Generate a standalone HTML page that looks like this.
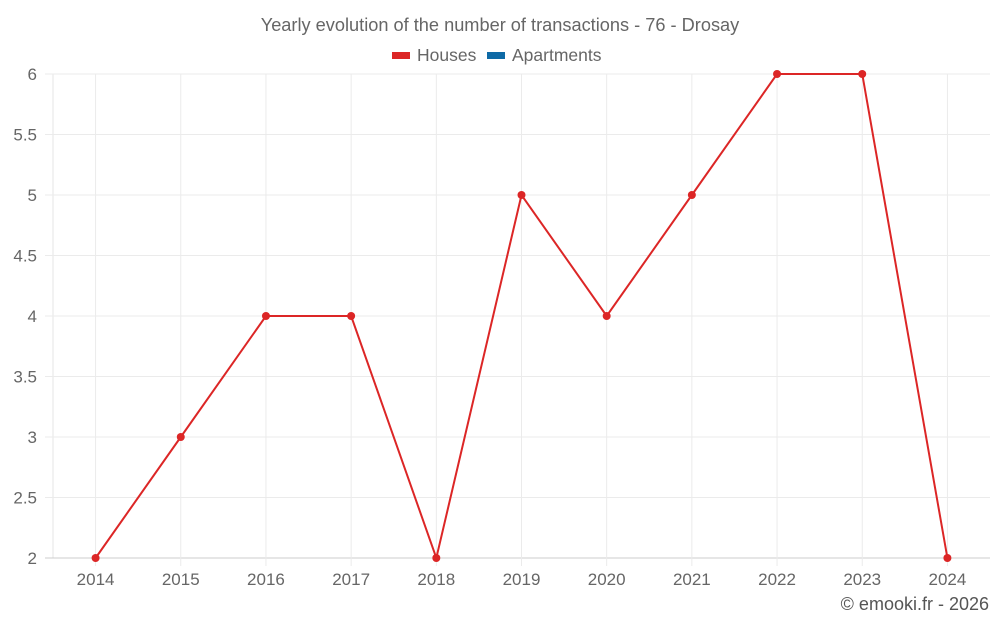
<!DOCTYPE html>
<html><head><meta charset="utf-8"><style>
body{margin:0;background:#fff;width:1000px;height:625px;overflow:hidden;font-family:"Liberation Sans",sans-serif}
</style></head><body>
<svg id="chart" width="1000" height="625" xmlns="http://www.w3.org/2000/svg" font-family="Liberation Sans, sans-serif">
<text x="500" y="31" text-anchor="middle" font-size="18.2" fill="#666">Yearly evolution of the number of transactions - 76 - Drosay</text>
<g><rect x="392" y="52" width="18" height="7" fill="#dc2626"/><text x="417" y="61" font-size="17.5" fill="#666">Houses</text></g>
<g><rect x="487" y="52" width="18" height="7" fill="#0e6aa6"/><text x="512" y="61" font-size="17.5" fill="#666">Apartments</text></g>
<g id="grid"></g><g id="axes"></g><g id="series"></g>
<text x="989" y="610" text-anchor="end" font-size="18" fill="#555">© emooki.fr - 2026</text>
</svg>
<script>
const categories=["2014","2015","2016","2017","2018","2019","2020","2021","2022","2023","2024"];
const houses=[2,3,4,4,2,5,4,5,6,6,2];
const yTicks=[2,2.5,3,3.5,4,4.5,5,5.5,6];
const L=53,R=990,T=74,B=558,yMin=2,yMax=6;
const step=(R-L)/categories.length;
const x=i=>L+step*(i+0.5);
const y=v=>B-(v-yMin)/(yMax-yMin)*(B-T);
const NS="http://www.w3.org/2000/svg";
function mk(tag,attrs,parent,txt){const e=document.createElementNS(NS,tag);for(const k in attrs)e.setAttribute(k,attrs[k]);if(txt!==undefined)e.textContent=txt;document.getElementById(parent).appendChild(e);return e;}
const vl=mk('line',{x1:L,x2:L,y1:T,y2:B,stroke:'#e6e6e6'},'grid');


yTicks.forEach(t=>{
 const g=mk('line',{x1:L-8,x2:R,y1:y(t),y2:y(t),stroke:t===yMin?'#ccc':'#ebebeb'},'grid');
 
 
 const lb=mk('text',{x:37,y:y(t)+6,'text-anchor':'end','font-size':17,fill:'#666'},'axes',String(t));
 
 
});
categories.forEach((c,i)=>{
 const g=mk('line',{x1:x(i),x2:x(i),y1:T,y2:B+8,stroke:'#ebebeb'},'grid');
 
 
 const lb=mk('text',{x:x(i),y:585,'text-anchor':'middle','font-size':17,fill:'#666'},'axes',c);
 
 
});
const line=mk('polyline',{points:houses.map((v,i)=>x(i)+','+y(v)).join(' '),fill:'none',stroke:'#dc2626','stroke-width':2},'series');


houses.forEach((v,i)=>{
 const p=mk('circle',{cx:x(i),cy:y(v),r:4,fill:'#dc2626'},'series');
 
 
});
</script>
</body></html>
